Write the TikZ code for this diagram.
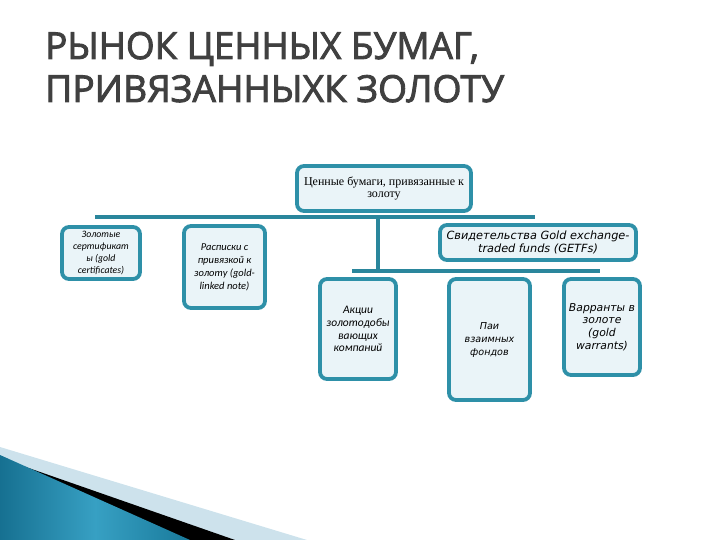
\documentclass[tikz,border=0pt]{standalone}
\usepackage{fontspec}
\setmainfont{Liberation Serif}
\newfontfamily\titlefont{Open Sans}
\newfontfamily\vfont{DejaVu Sans}
\newfontfamily\cfont{Carlito}
\usetikzlibrary{shadows}
\definecolor{boxborder}{HTML}{2E90A8}
\definecolor{boxfill}{HTML}{EAF4F8}
\definecolor{linkcol}{HTML}{2A869C}
\definecolor{titlecol}{HTML}{404040}
\newcommand{\heavytext}[1]{\special{pdf:literal direct 2 Tr 0.9 w}#1\special{pdf:literal direct 0 Tr}}
\tikzset{
  card/.style={draw=boxborder, line width=3.8pt, fill=boxfill, rounded corners=7pt,
    align=center, inner sep=2pt,
    drop shadow={opacity=0.2, shadow xshift=1pt, shadow yshift=-1.5pt}},
  link/.style={draw=linkcol, line width=3.8pt},
  titletext/.style={anchor=base west, inner sep=0pt, text=titlecol,
    font=\titlefont\fontsize{37.2}{43}\selectfont}
}
\begin{document}
\begin{tikzpicture}[x=1pt,y=-1pt]
\useasboundingbox (0,0) rectangle (720,540);
% bottom-left decoration
\fill[fill={rgb,255:red,205;green,226;blue,236}] (0,447) -- (307,540) -- (0,540) -- cycle;
\fill[black] (0,458) -- (235,540) -- (0,540) -- cycle;
\shade[left color={rgb,255:red,22;green,112;blue,145}, right color={rgb,255:red,25;green,122;blue,155}, middle color={rgb,255:red,55;green,160;blue,195}] (0,455) -- (190,540) -- (0,540) -- cycle;
% title
\node[titletext, xscale=0.99, transform shape] (t1) at (45,59) {\heavytext{РЫНОК ЦЕННЫХ БУМАГ,}};
\node[titletext] (t2) at (45,102) {\heavytext{ПРИВЯЗАННЫХК ЗОЛОТУ}};
% connectors
\coordinate (barL) at (95,217);
\coordinate (barR) at (535,217);
\coordinate (stemT) at (378,217);
\coordinate (stemB) at (378,271);
\coordinate (bar2L) at (352,271);
\coordinate (bar2R) at (600,271);
\draw[link] (barL) -- (barR);
\draw[link] (stemT) -- (stemB);
\draw[link] (bar2L) -- (bar2R);
% boxes
\node[card, minimum width=174pt, minimum height=45pt, font=\fontsize{12}{12.5}\selectfont] (root) at (384,188.5)
  {Ценные бумаги, привязанные к\\золоту};
\node[card, minimum width=78pt, minimum height=52pt, font=\cfont\itshape\fontsize{9.8}{12}\selectfont] (gold) at (101,253)
  {Золотые\\сертификат\\ы (gold\\certificates)};
\node[card, minimum width=81pt, minimum height=82pt, font=\cfont\itshape\fontsize{10.5}{13}\selectfont] (note) at (224.5,267)
  {Расписки с\\привязкой к\\золоту (gold-\\linked note)};
\node[card, minimum width=196pt, minimum height=35pt, font=\vfont\itshape\fontsize{11.3}{13}\selectfont] (getf) at (538,242.5)
  {Свидетельства Gold exchange-\\traded funds (GETFs)};
\node[card, minimum width=76pt, minimum height=100pt, font=\cfont\itshape\fontsize{11.5}{12.7}\selectfont] (shares) at (358,329)
  {Акции\\золотодобы\\вающих\\компаний};
\node[card, minimum width=81pt, minimum height=121pt, font=\vfont\itshape\fontsize{9.6}{13}\selectfont] (pai) at (489.5,339.5)
  {Паи\\взаимных\\фондов};
\node[card, minimum width=76pt, minimum height=96pt, font=\vfont\itshape\fontsize{10.8}{12.7}\selectfont] (warr) at (602,327)
  {Варранты в\\золоте\\(gold\\warrants)};
\end{tikzpicture}
\end{document}
